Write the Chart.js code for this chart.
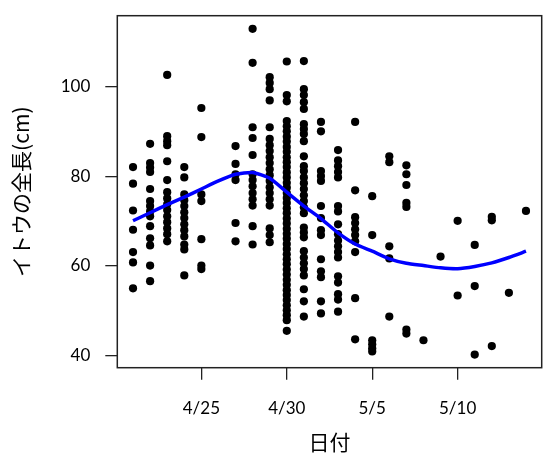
<!DOCTYPE html>
<html>
<head>
<meta charset="utf-8">
<script src="https://cdn.jsdelivr.net/npm/chart.js@4/dist/chart.umd.min.js"></script>
<style>
    body { margin: 0; background: #fff; }
    #wrap { width: 550px; height: 475px; }
</style>
</head>
<body>
<div id="wrap"><canvas id="lengthChart" width="550" height="475"></canvas></div>
<script>
// 日付 (4/21 = 21, 5/1 = 31 ...)
const sampleDays = [21, 22, 23, 24, 25, 27, 28, 29, 30, 31, 32, 33, 34, 35, 36, 37, 38, 39, 40, 41, 42, 43, 44];

// 各日の全長 (cm)
const lengthsByDay = [
    [82.1, 78.4, 72.4, 68.1, 63.1, 60.8, 55.0],
    [87.3, 83.0, 82.0, 81.0, 77.2, 74.5, 73.4, 72.2, 71.1, 68.9, 66.2, 64.6, 60.1, 56.6],
    [102.7, 89.0, 87.9, 87.0, 83.4, 79.2, 76.5, 75.1, 73.8, 72.5, 71.1, 69.8, 68.4, 67.1, 65.5],
    [82.1, 79.8, 76.0, 74.7, 73.4, 72.0, 70.7, 69.3, 68.0, 66.6, 64.8, 63.7, 57.9],
    [95.3, 88.8, 76.0, 74.5, 66.0, 60.1, 59.3],
    [86.8, 82.8, 80.5, 79.2, 69.6, 65.5],
    [113.0, 105.4, 91.0, 88.6, 84.8, 80.5, 79.2, 77.8, 76.3, 74.9, 73.5, 68.9, 64.8],
    [102.2, 100.9, 99.5, 97.0, 91.0, 88.4, 87.0, 85.7, 84.3, 83.0, 81.6, 80.3, 79.0, 77.6, 76.3, 74.9, 73.5, 68.4, 66.9, 65.3],
    [105.7, 98.2, 96.8, 92.4, 91.2, 90.1, 88.9, 87.8, 86.6, 85.5, 84.3, 83.2, 82.1, 80.9, 79.8, 78.6, 77.5, 76.3, 75.2, 74.1,
     72.9, 71.8, 70.6, 69.5, 68.3, 67.2, 66.1, 64.9, 63.8, 62.6, 61.5, 60.4, 59.2, 58.1, 56.9, 55.8, 54.6, 53.5, 52.4, 51.2,
     50.1, 49.0, 47.9, 45.5],
    [105.8, 99.5, 98.2, 96.6, 95.1, 91.7, 90.6, 89.5, 87.9, 84.5, 82.3, 81.2, 79.8, 78.5, 77.2, 75.8, 74.5, 73.1, 71.8, 68.6,
     67.5, 66.4, 63.3, 61.9, 60.6, 59.3, 57.9, 54.8, 52.1, 48.7],
    [92.2, 90.1, 81.2, 80.1, 79.0, 73.4, 70.7, 68.0, 66.9, 61.5, 58.8, 57.5, 52.1, 49.4],
    [85.9, 83.6, 82.3, 81.0, 79.8, 73.4, 72.2, 69.3, 67.1, 65.7, 64.4, 63.1, 61.9, 57.7, 56.3, 53.7, 52.5, 49.8],
    [92.2, 76.9, 70.9, 69.6, 68.2, 66.9, 65.5, 63.1, 52.8, 43.6],
    [75.6, 66.9, 43.4, 42.5, 41.6, 40.9],
    [84.5, 83.2, 64.4, 61.7, 48.7],
    [82.5, 80.5, 78.1, 74.1, 73.2, 45.8, 44.9],
    [43.4],
    [62.1],
    [70.1, 53.4],
    [64.7, 55.5, 40.2],
    [71.0, 70.2, 42.1],
    [54.0],
    [72.3],
];

// 平滑化曲線
const smoothDays = [21, 22, 23, 24, 25, 26, 27, 28, 29, 30, 31, 32, 33, 34, 35, 36, 37, 38, 39, 40, 41, 42, 43, 44];
const smoothLengths = [70.1, 71.9, 73.7, 75.4, 77.2, 79.0, 80.5, 80.9, 79.6, 76.5, 73.4, 70.6, 67.4, 64.9, 63.3, 61.6,
    60.6, 60.1, 59.6, 59.4, 59.9, 60.7, 61.9, 63.3];

// 目盛り
const xTickDays = [25, 30, 35, 40];
const xTickLabels = ['4/25', '4/30', '5/5', '5/10'];
const yTickValues = [40, 60, 80, 100];

const tickFont = { family: 'Lato', size: 17 };
const titleFont = { family: "'Noto Sans CJK JP'", size: 21 };

const fishPoints = sampleDays.flatMap((day, i) => lengthsByDay[i].map((v) => ({ x: day, y: v })));
const smoothPoints = smoothDays.map((day, i) => ({ x: day, y: smoothLengths[i] }));

// プロット枠
const frameBox = {
    id: 'frameBox',
    afterDatasetsDraw(chart) {
        const { ctx, chartArea: a } = chart;
        ctx.save();
        ctx.strokeStyle = '#222';
        ctx.lineWidth = 1.5;
        ctx.strokeRect(a.left, a.top, a.right - a.left, a.bottom - a.top);
        ctx.restore();
    },
};

new Chart(document.getElementById('lengthChart'), {
    type: 'scatter',
    data: {
        datasets: [
            {
                label: 'smooth',
                data: smoothPoints,
                showLine: true,
                borderColor: 'rgb(0, 0, 255)',
                borderWidth: 3.5,
                pointRadius: 0,
                tension: 0.2,
                order: 0,
            },
            {
                label: 'length',
                data: fishPoints,
                backgroundColor: '#000',
                borderColor: '#000',
                pointRadius: 4.1,
                borderWidth: 0,
                order: 1,
            },
        ],
    },
    options: {
        responsive: false,
        animation: false,
        layout: { padding: { top: 15.7, right: 8.3, left: 0, bottom: 0 } },
        plugins: {
            legend: { display: false },
            tooltip: { enabled: false },
        },
        scales: {
            x: {
                type: 'linear',
                min: 20.08,
                max: 44.92,
                afterBuildTicks: (scale) => { scale.ticks = xTickDays.map((v) => ({ value: v })); },
                afterFit: (scale) => {
                    scale.height = 107.3;
                    scale.paddingLeft = 0;
                    scale.paddingRight = 0;
                },
                ticks: {
                    autoSkip: false,
                    maxRotation: 0,
                    padding: 19,
                    color: '#000',
                    font: tickFont,
                    callback: (value) => xTickLabels[xTickDays.indexOf(value)],
                },
                grid: { drawOnChartArea: false, tickLength: 12, color: '#222', lineWidth: 1.3 },
                border: { display: false },
                title: { display: true, text: '日付', color: '#000', font: titleFont, padding: { top: 0, bottom: 20 } },
            },
            y: {
                type: 'linear',
                min: 37.27,
                max: 115.93,
                afterBuildTicks: (scale) => { scale.ticks = yTickValues.map((v) => ({ value: v })); },
                afterFit: (scale) => {
                    scale.width = 117.3;
                    scale.paddingTop = 0;
                    scale.paddingBottom = 0;
                },
                ticks: { padding: 15, color: '#000', font: tickFont },
                grid: { drawOnChartArea: false, tickLength: 12, color: '#222', lineWidth: 1.3 },
                border: { display: false },
                title: { display: true, text: 'イトウの全長(cm)', color: '#000', font: titleFont, padding: { top: 8, bottom: 0 } },
            },
        },
    },
    plugins: [frameBox],
});
</script>
</body>
</html>
